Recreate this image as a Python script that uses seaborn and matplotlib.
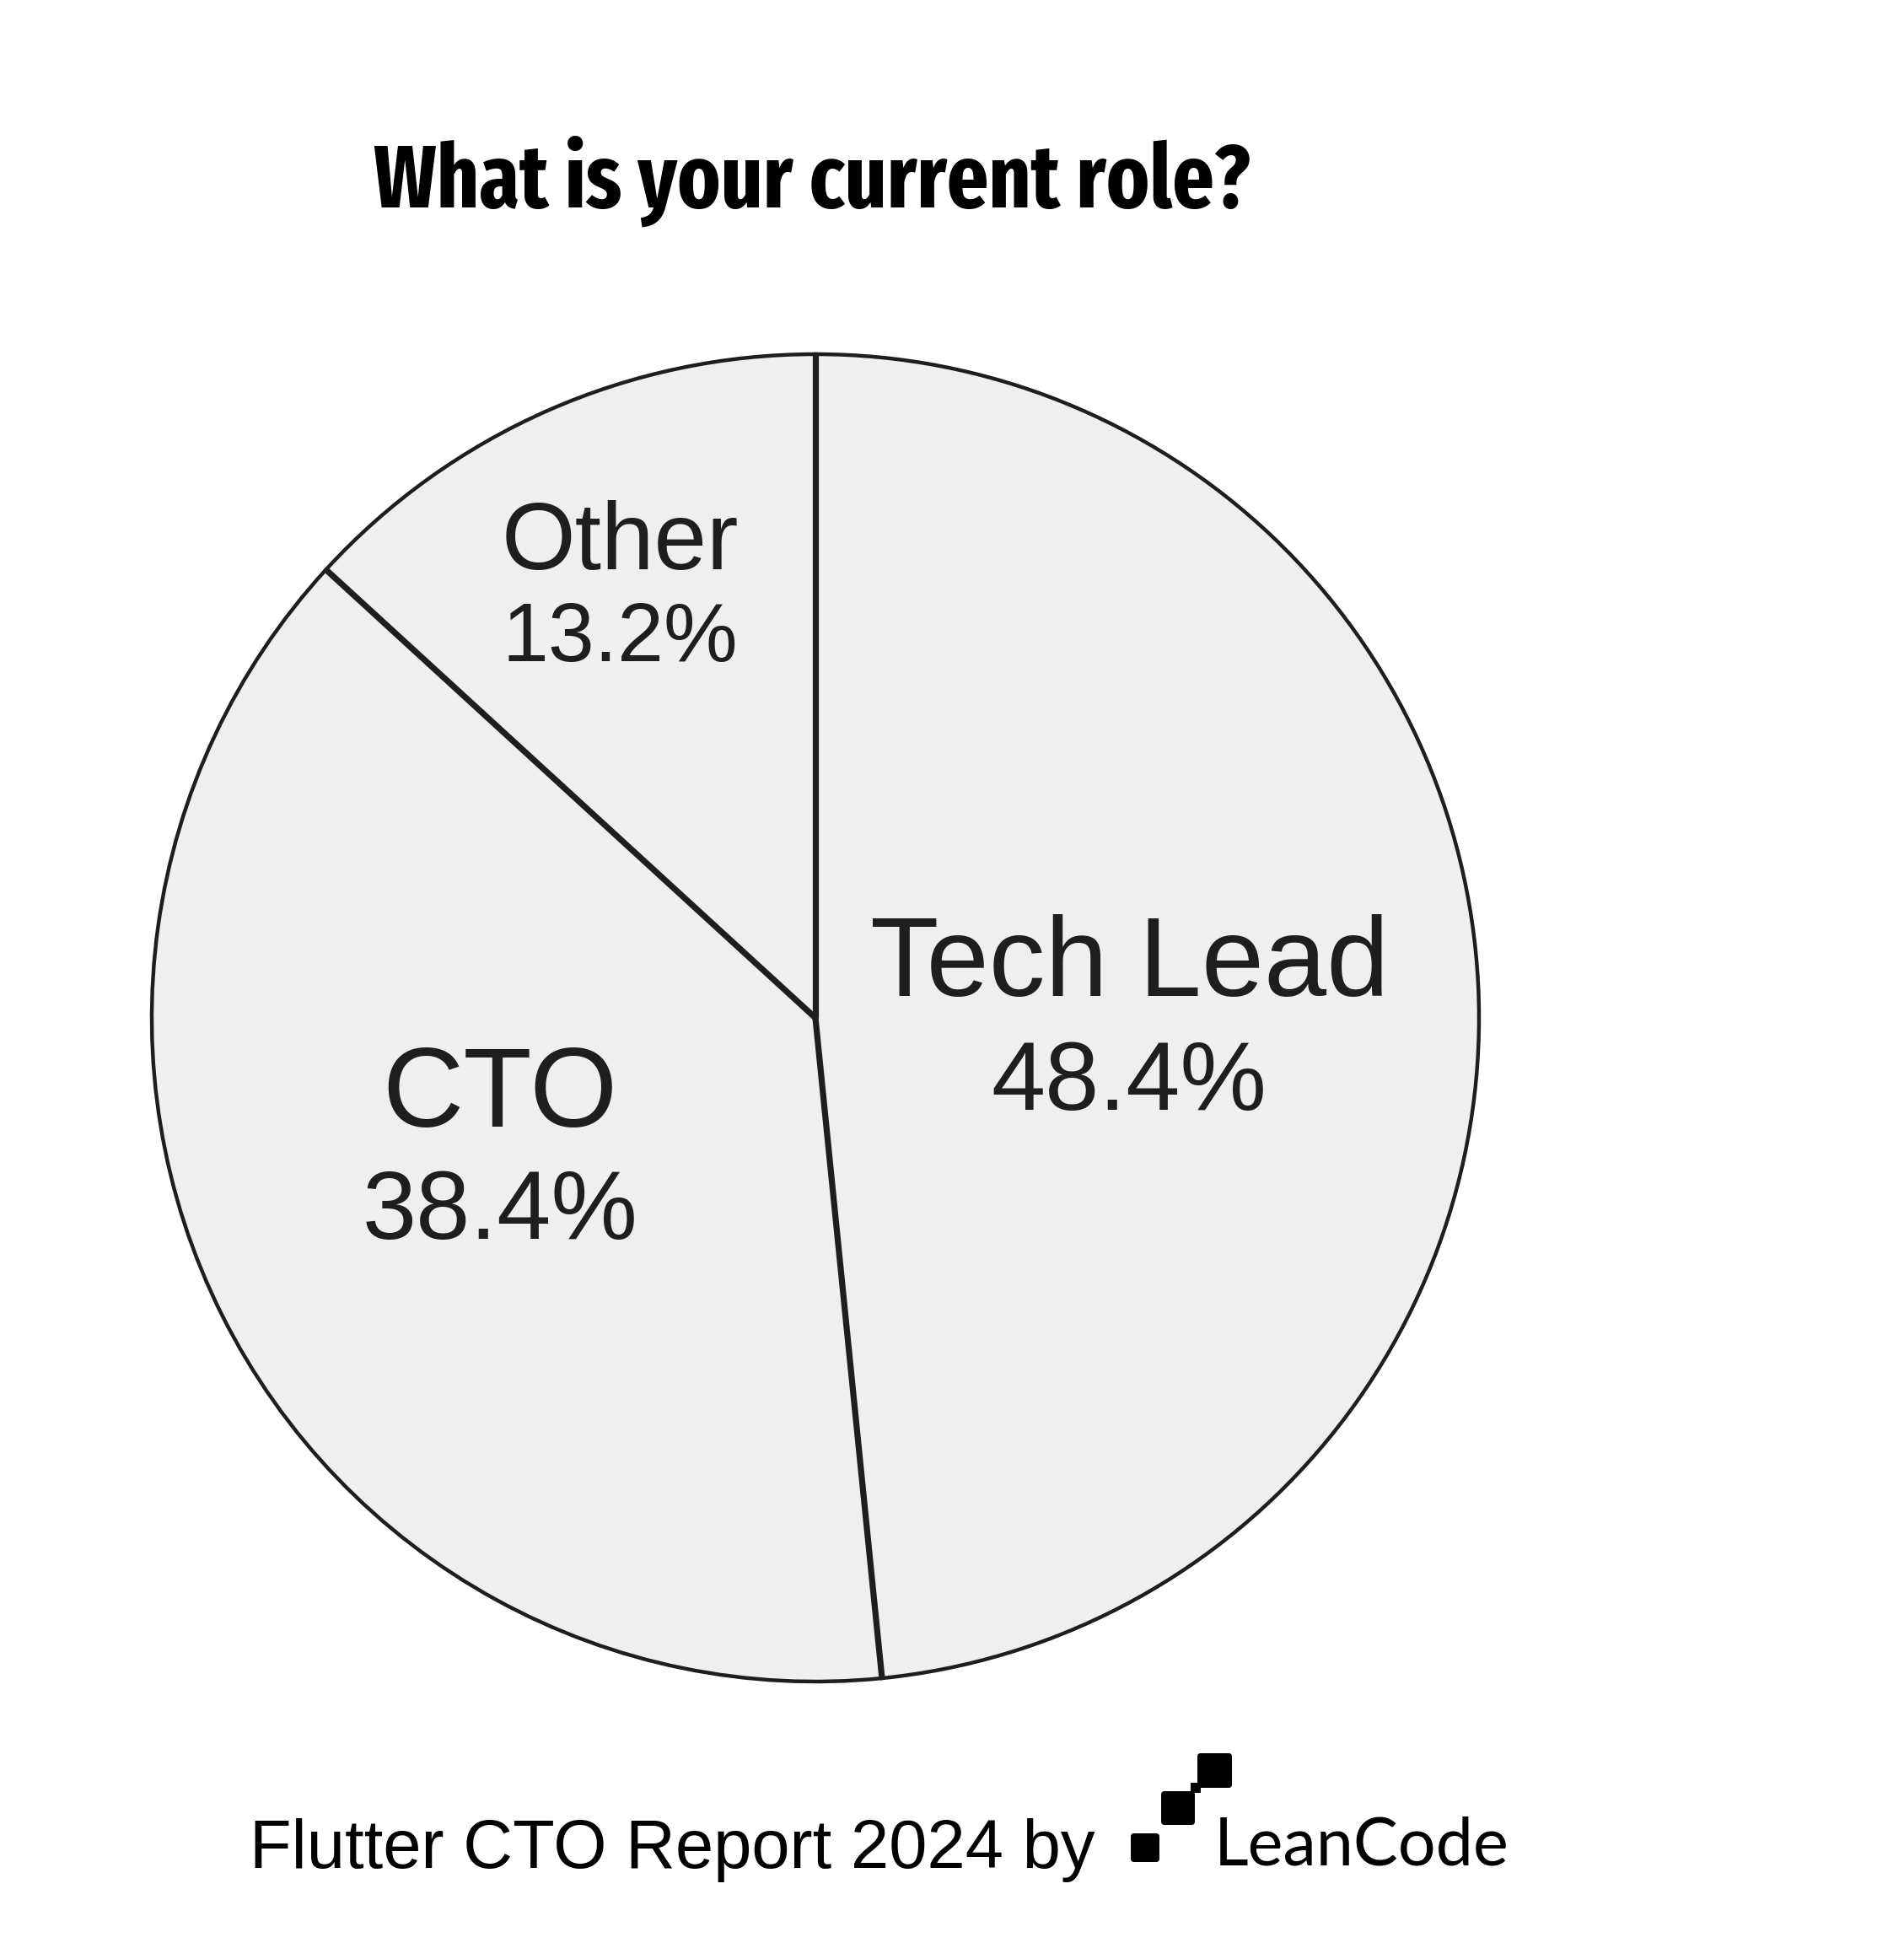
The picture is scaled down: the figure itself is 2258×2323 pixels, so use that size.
import matplotlib
matplotlib.use("Agg")
import os
import matplotlib.pyplot as plt
import numpy as np
import seaborn as sns
from matplotlib import font_manager
from matplotlib.font_manager import FontProperties
from matplotlib.patches import FancyBboxPatch, Rectangle

# ---------------- data ----------------
roles = ["Tech Lead", "CTO", "Other"]
shares = [48.4, 38.4, 13.2]
title = "What is your current role?"
footer = "Flutter CTO Report 2024 by"
brand = "LeanCode"

# ---------------- style ----------------
W, H, DPI = 2258, 2323, 200
FILL = "#efefef"
EDGE = "#1e1e1c"
TEXT = "#1e1e1c"

sns.set_theme(style="white")
fm = font_manager.fontManager
names = {f.name for f in fm.ttflist}


def pick(cands):
    for c in cands:
        if c in names:
            return c
    return "DejaVu Sans"


SANS = pick(["Liberation Sans", "Arimo", "DejaVu Sans"])
BRANDF = pick(["Lato", "Open Sans", "Noto Sans"])
plt.rcParams["font.family"] = [SANS, "DejaVu Sans"]


def _wnum(w):
    if isinstance(w, int):
        return w
    return font_manager.weight_dict.get(w, 400)


# narrow bold face for the title: prefer an extra-condensed bold file
def _rank(f):
    base = os.path.basename(f.fname).lower().replace("-", "").replace("_", "")
    if "italic" in base or f.style != "normal":
        return None
    if "extracondensed" in base or "ultracondensed" in base:
        r = 0
    elif "narrow" in base:
        r = 1
    elif "semicondensed" in base:
        r = 3
    elif "condensed" in base:
        r = 2
    else:
        return None
    if _wnum(f.weight) < 600:
        return None
    return (r, abs(_wnum(f.weight) - 700))


best = None
for f in fm.ttflist:
    k = _rank(f)
    if k is not None and (best is None or k < best[0]):
        best = (k, f.fname)
if best is not None:
    title_fp = FontProperties(fname=best[1])
else:
    title_fp = FontProperties(family=SANS, weight="bold")

fig = plt.figure(figsize=(W / DPI, H / DPI), dpi=DPI)
fig.patch.set_facecolor("white")

# pie axes: centre (967,1207) px, radius 787 px
cx, cy, R = 967, 1207, 787
LIM = 1.05
side = 2 * R * LIM
ax = fig.add_axes([(cx - R * LIM) / W, (H - cy - R * LIM) / H, side / W, side / H])
wedges, _ = ax.pie(
    shares,
    startangle=90,
    counterclock=False,
    colors=[FILL] * len(shares),
    wedgeprops=dict(edgecolor=EDGE, linewidth=1.6),
    radius=1.0,
)
for w in wedges:
    t = np.deg2rad(w.theta1)
    ax.plot([0, np.cos(t)], [0, np.sin(t)], color=EDGE, lw=2.6,
            solid_capstyle="butt", zorder=5)
ax.set_xlim(-LIM, LIM)
ax.set_ylim(-LIM, LIM)
ax.set_aspect("equal")
ax.axis("off")

label_pos = [(0.473, 0.033, -0.138), (-0.475, -0.164, -0.333), (-0.295, 0.676, 0.537)]
label_size = [(48.0, 41.5), (48.0, 41.5), (40.5, 35.5)]
for role, val, (lx, ny, py), (s1, s2) in zip(roles, shares, label_pos, label_size):
    ax.text(lx, ny, role, ha="center", va="baseline", fontsize=s1, color=TEXT, zorder=6)
    ax.text(lx, py, f"{val:.1f}%", ha="center", va="baseline", fontsize=s2, color=TEXT, zorder=6)

# overlay in pixel coordinates for title, footer, logo
ov = fig.add_axes([0, 0, 1, 1], zorder=10)
ov.set_xlim(0, W)
ov.set_ylim(H, 0)
ov.axis("off")
ov.patch.set_alpha(0)

# title: ~79 px cap height, limited to ~1040 px width
tfp = title_fp.copy()
tfp.set_size(40)
t_title = ov.text(963, 246, title, ha="center", va="baseline",
                  fontproperties=tfp, color="black")
renderer = fig.canvas.get_renderer()
wpx = t_title.get_window_extent(renderer=renderer).width
if wpx > 1040:
    tfp.set_size(40 * 1040 / wpx)
    t_title.set_fontproperties(tfp)

ov.text(296, 2215, footer, ha="left", va="baseline", fontsize=29.3, color="black")

# LeanCode logo squares
for (x0, y0, s) in [(1341, 2174, 34), (1377, 2124, 40), (1420, 2079, 41)]:
    ov.add_patch(FancyBboxPatch((x0, y0), s, s,
                                boxstyle="round,pad=0,rounding_size=4",
                                fc="black", ec="none"))
ov.add_patch(Rectangle((1412, 2114), 12, 12, fc="black", ec="none"))
ov.text(1440, 2212, brand, ha="left", va="baseline", fontsize=28.5,
        fontweight="normal", family=[BRANDF, "DejaVu Sans"], color="black")

fig.savefig("out.png", dpi=DPI, facecolor="white")
